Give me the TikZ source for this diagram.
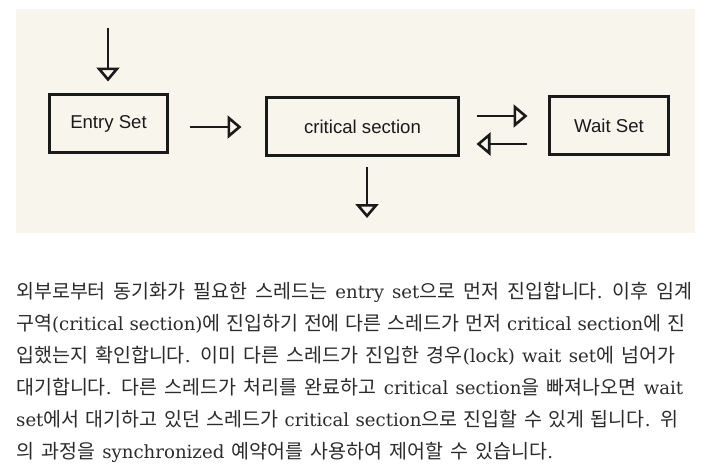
\documentclass[tikz,border=0pt]{standalone}
\usepackage{fontspec}
\setmainfont{Liberation Sans}
\newfontfamily\krfont{Noto Sans CJK KR}
\newfontfamily\latfont{DejaVu Serif}[Scale=0.93]
\newcommand{\enw}[1]{{\latfont #1}}
\newcommand{\krline}[2]{{\spaceskip=5.6pt plus 10pt minus 1.5pt\relax\makebox[#1][s]{#2}}}
\usetikzlibrary{arrows.meta, positioning}
\definecolor{bgbeige}{HTML}{F7F5EC}
\definecolor{ink}{HTML}{1A1A1A}
\definecolor{txt}{HTML}{2B2B2B}

\begin{document}
\begin{tikzpicture}[x=1pt,y=-1pt,
 box/.style = {draw=ink, line width=3pt, minimum height=58pt, inner sep=0pt, text=ink, font=\fontsize{18.6}{20}\selectfont},
 flow/.style = {draw=ink, line width=2.6pt, -{Triangle[open, length=14pt, width=23pt]}},
]
\useasboundingbox (0,0) rectangle (708,475);
\fill[bgbeige] (16,9) rectangle (695,233);

\node (entry)[box, minimum width=118pt] at (108.5,123.5) {Entry Set};
\node (crit)[box, minimum width=192pt] at (362.5,126.5) {critical section};
\node (wait)[box, minimum width=119pt] at (609,125.5) {Wait Set};

\coordinate (in) at (108,28);
\coordinate (out) at (367,218);

\draw[flow, shorten >=11.5pt] (in) -- (in |- entry.north);
\draw[flow, shorten <=20.5pt, shorten >=23.5pt] ([yshift=-3.5pt]entry.east) -- ([yshift=-3.5pt]entry.east -| crit.west);
\draw[flow, shorten <=16.5pt, shorten >=20.5pt] ([yshift=10.5pt]crit.east) -- ([yshift=10.5pt]crit.east -| wait.west);
\draw[flow, shorten <=21.5pt, shorten >=16.5pt] ([yshift=-18.5pt]wait.west) -- ([yshift=-18.5pt]wait.west -| crit.east);
\draw[flow, shorten <=9.5pt] ([xshift=4.5pt]crit.south) -- (out);

\node (para)[anchor=base west, inner sep=0pt, text width=690pt, align=left, text=txt, font=\krfont\fontsize{19.5}{32}\selectfont] at (16,298) {%
\krline{676pt}{외부로부터 동기화가 필요한 스레드는 \enw{entry set}으로 먼저 진입합니다\enw{.} 이후 임계}\\
\krline{669pt}{구역\enw{(critical section)}에 진입하기 전에 다른 스레드가 먼저 \enw{critical section}에 진}\\
\krline{659pt}{입했는지 확인합니다\enw{.} 이미 다른 스레드가 진입한 경우\enw{(lock) wait set}에 넘어가}\\
\krline{667pt}{대기합니다\enw{.} 다른 스레드가 처리를 완료하고 \enw{critical section}을 빠져나오면 \enw{wait}}\\
\krline{662pt}{\enw{set}에서 대기하고 있던 스레드가 \enw{critical section}으로 진입할 수 있게 됩니다\enw{.} 위}\\
\krline{537pt}{의 과정을 \enw{synchronized} 예약어를 사용하여 제어할 수 있습니다\enw{.}}};
\end{tikzpicture}
\end{document}
